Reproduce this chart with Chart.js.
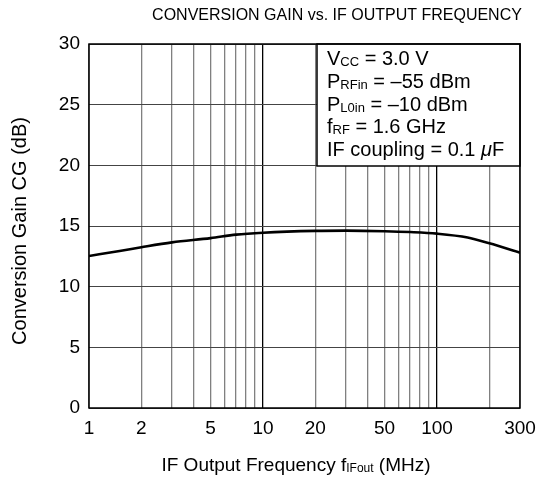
<!DOCTYPE html>
<html><head><meta charset="utf-8">
<script src="https://cdn.jsdelivr.net/npm/chart.js@4"></script>
<style>html,body{margin:0;padding:0;background:#fff}</style>
</head><body>
<canvas id="c" width="549" height="478"></canvas>
<script>
const freqMHz = [1, 1.5, 2, 3, 5, 7, 10, 20, 30, 50, 70, 100, 150, 200, 300];
const gainDb  = [12.53, 12.94, 13.25, 13.65, 14.0, 14.29, 14.45, 14.6, 14.62, 14.57, 14.5, 14.37, 14.05, 13.57, 12.8];
const xGridValues = [1,2,3,4,5,6,7,8,9,10,20,30,40,50,60,70,80,90,100,200,300];
const xTickLabels = [1,2,5,10,20,50,100,300];
const yTickValues = [0,5,10,15,20,25,30];
const titleText = 'CONVERSION GAIN vs. IF OUTPUT FREQUENCY';
const yTitle = 'Conversion Gain CG (dB)';
const xTitleParts = [['IF Output Frequency f', 'n'], ['IFout', 's'], [' (MHz)', 'n']];
const conditionLines = [
  [['V','n'],['CC','s'],[' = 3.0 V','n']],
  [['P','n'],['RFin','s'],[' = \u201355 dBm','n']],
  [['P','n'],['L0in','s'],[' = \u201310 dBm','n']],
  [['f','n'],['RF','s'],[' = 1.6 GHz','n']],
  [['IF coupling = 0.1 ','n'],['\u03bc','i'],['F','n']]
];

const FONT = '"Liberation Sans", Arial, sans-serif';

function drawParts(ctx, parts, x, y, size, subSize, align) {
  const fontFor = t => t === 's' ? subSize + 'px ' + FONT : (t === 'i' ? 'italic ' + size + 'px ' + FONT : size + 'px ' + FONT);
  let total = 0;
  parts.forEach(([s, t]) => { ctx.font = fontFor(t); total += ctx.measureText(s).width; });
  let cx = align === 'center' ? x - total / 2 : x;
  ctx.textAlign = 'left';
  ctx.textBaseline = 'alphabetic';
  parts.forEach(([s, t]) => {
    ctx.font = fontFor(t);
    ctx.fillText(s, cx, t === 's' ? y + 1 : y);
    cx += ctx.measureText(s).width;
  });
}

const decor = {
  id: 'decor',
  afterDraw(chart) {
    const ctx = chart.ctx;
    const a = chart.chartArea;
    ctx.save();
    ctx.fillStyle = '#000';
    ctx.font = '16px ' + FONT;
    ctx.textAlign = 'center';
    ctx.textBaseline = 'alphabetic';
    ctx.fillText(titleText, 337, 20);
    ctx.save();
    ctx.translate(26, 231);
    ctx.rotate(-Math.PI / 2);
    ctx.font = '20px ' + FONT;
    ctx.textAlign = 'center';
    ctx.fillText(yTitle, 0, 0);
    ctx.restore();
    drawParts(ctx, xTitleParts, 296, 471, 19, 12, 'center');
    const bx = 317, by = a.top, bw = a.right - 317, bh = 122;
    ctx.fillStyle = '#fff';
    ctx.fillRect(bx, by, bw, bh);
    ctx.strokeStyle = '#000';
    ctx.lineWidth = 1.5;
    ctx.strokeRect(bx, by, bw, bh);
    ctx.fillStyle = '#000';
    const baselines = [65, 88, 111, 133, 156];
    conditionLines.forEach((ln, i) => drawParts(ctx, ln, 327, baselines[i], 20, 13, 'left'));
    ctx.lineWidth = 1.5;
    ctx.strokeRect(a.left, a.top, a.right - a.left, a.bottom - a.top);
    ctx.restore();
  }
};

new Chart(document.getElementById('c'), {
  type: 'line',
  data: {
    datasets: [{
      data: freqMHz.map((f, i) => ({ x: f, y: gainDb[i] })),
      borderColor: '#000',
      borderWidth: 2.6,
      pointRadius: 0,
      cubicInterpolationMode: 'monotone',
      fill: false
    }]
  },
  options: {
    responsive: false,
    animation: false,
    devicePixelRatio: 1,
    layout: { padding: { left: 0, top: 44, right: 29, bottom: 0 } },
    plugins: { legend: { display: false }, tooltip: { enabled: false }, title: { display: false } },
    scales: {
      x: {
        type: 'logarithmic',
        min: 1, max: 300,
        afterBuildTicks(scale) { scale.ticks = xGridValues.map(v => ({ value: v })); },
        afterFit(scale) { scale.height = 70; },
        ticks: {
          autoSkip: false, maxRotation: 0, minRotation: 0, padding: 9,
          color: '#000', font: { family: FONT, size: 19 },
          callback: v => xTickLabels.includes(v) ? String(v) : ''
        },
        grid: {
          drawTicks: false,
          color: c => (c.tick && (c.tick.value === 10 || c.tick.value === 100)) ? '#000' : '#808080',
          lineWidth: 1.3
        },
        border: { display: false }
      },
      y: {
        min: 0, max: 30,
        afterBuildTicks(scale) { scale.ticks = yTickValues.map(v => ({ value: v })); },
        afterFit(scale) { scale.width = 89; },
        ticks: { padding: 9, color: '#000', font: { family: FONT, size: 19 } },
        grid: { drawTicks: false, color: '#444', lineWidth: 1 },
        border: { display: false }
      }
    }
  },
  plugins: [decor]
});
</script>
</body></html>
